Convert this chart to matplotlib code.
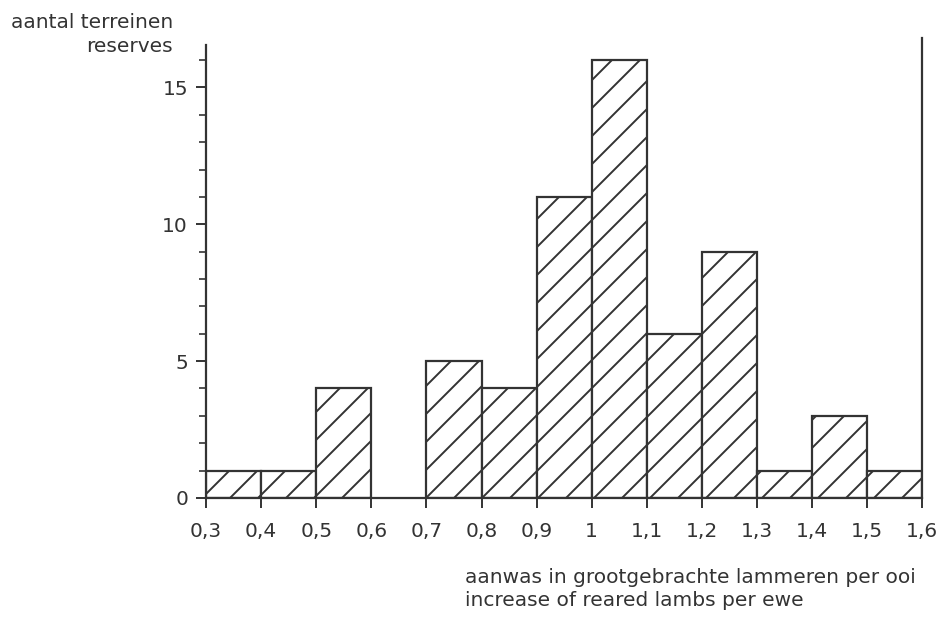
import numpy as np
import matplotlib
matplotlib.use('Agg')
from matplotlib import pyplot as plt
from matplotlib.ticker import MultipleLocator

# bin edges (left) and counts
bin_left = [0.3, 0.4, 0.5, 0.6, 0.7, 0.8, 0.9, 1.0, 1.1, 1.2, 1.3, 1.4, 1.5]
counts = [1, 1, 4, 0, 5, 4, 11, 16, 6, 9, 1, 3, 1]
xtick_vals = [0.3, 0.4, 0.5, 0.6, 0.7, 0.8, 0.9, 1.0, 1.1, 1.2, 1.3, 1.4, 1.5, 1.6]
xtick_labels = ['0,3', '0,4', '0,5', '0,6', '0,7', '0,8', '0,9', '1', '1,1',
                '1,2', '1,3', '1,4', '1,5', '1,6']
ytick_vals = [0, 5, 10, 15]

# hatch spacing follows the dpi, so pick dpi for ~28px spacing; sizes scaled by S
DPI = 168
S = 100 / DPI

ink = '#333333'
plt.rcParams['font.family'] = ['DejaVu Sans']
plt.rcParams['hatch.color'] = ink
plt.rcParams['hatch.linewidth'] = 1.4 * S

fig = plt.figure(figsize=(941 / DPI, 617 / DPI), dpi=DPI)
ax = fig.add_axes([0.219, 0.193, 0.761, 0.734])

for x, c in zip(bin_left, counts):
    if c > 0:
        ax.bar(x, c, width=0.1, align='edge', facecolor='white',
               edgecolor=ink, linewidth=1.6 * S, hatch='//')

ax.set_xlim(0.3, 1.6)
ax.set_ylim(0, 16.55)

ax.spines['top'].set_visible(False)
for s in ['left', 'right', 'bottom']:
    ax.spines[s].set_color(ink)
    ax.spines[s].set_linewidth(1.6 * S)
ax.spines['right'].set_bounds(0, 16.8)

fs = 14.5 * S
ax.set_xticks(xtick_vals)
ax.set_xticklabels(xtick_labels)
ax.set_yticks(ytick_vals)
ax.yaxis.set_minor_locator(MultipleLocator(1))
ax.tick_params(axis='both', which='major', direction='out', length=7 * S,
               width=1.4 * S, color=ink, labelcolor=ink, labelsize=fs, pad=6 * S)
ax.tick_params(axis='y', which='minor', direction='out', length=5 * S,
               width=1.2 * S, color=ink)
ax.tick_params(axis='x', pad=10 * S)

fig.text(0.184, 0.964, 'aantal terreinen', ha='right', va='center',
         fontsize=fs, color=ink)
fig.text(0.184, 0.924, 'reserves', ha='right', va='center',
         fontsize=fs, color=ink)

fig.text(0.494, 0.064, 'aanwas in grootgebrachte lammeren per ooi',
         ha='left', va='center', fontsize=fs, color=ink)
fig.text(0.494, 0.027, 'increase of reared lambs per ewe',
         ha='left', va='center', fontsize=fs, color=ink)

fig.savefig('out.png', dpi=DPI, facecolor='white')
